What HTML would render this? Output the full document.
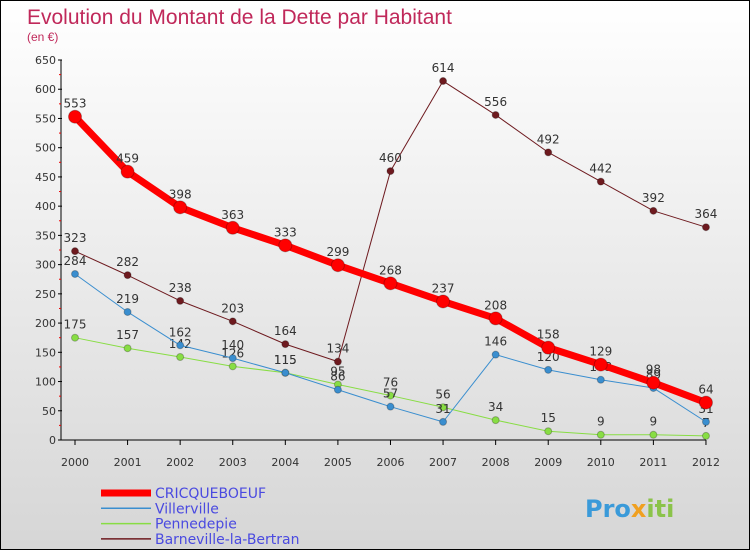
<!DOCTYPE html>
<html><head><meta charset="utf-8"><style>
body{margin:0}
#c{width:748px;height:548px;border:1px solid #000;background:linear-gradient(#fff,#d6d6d6);position:relative;font-family:"DejaVu Sans","Liberation Sans",sans-serif;overflow:hidden}
</style></head><body>
<div id="c">
<svg id="s" width="748" height="548"></svg>
</div>
<script>
const years=[2000,2001,2002,2003,2004,2005,2006,2007,2008,2009,2010,2011,2012];
const cricq=[553,459,398,363,333,299,268,237,208,158,129,98,64];
const viller=[284,219,162,140,115,86,57,31,146,120,103,89,31];
const penne=[175,157,142,126,115,95,76,56,34,15,9,9,7];
const barne=[323,282,238,203,164,134,460,614,556,492,442,392,364];
const yTicks=[0,50,100,150,200,250,300,350,400,450,500,550,600,650];
const NS="http://www.w3.org/2000/svg";
const s=document.getElementById('s');
const X=i=>74+i*52.58, Y=v=>439-v*380/650;
function el(t,a,txt){const e=document.createElementNS(NS,t);for(const k in a)e.setAttribute(k,a[k]);if(txt!==undefined)e.textContent=txt;s.appendChild(e);return e;}
let e;
e=el('text',{x:26,y:23,fill:'#c0285a','font-size':21,'font-family':'Liberation Sans, sans-serif'},'Evolution du Montant de la Dette par Habitant');

e=el('text',{x:26,y:40,fill:'#c0285a','font-size':12,'font-family':'Liberation Sans, sans-serif'},'(en €)');

e=el('line',{x1:60,y1:59,x2:60,y2:439,stroke:'#000'});

e=el('line',{x1:60,y1:439,x2:X(12),y2:439,stroke:'#000'});

yTicks.forEach(v=>{
 e=el('line',{x1:57,y1:Y(v),x2:61,y2:Y(v),stroke:'#000'});
 
 if(v<650){e=el('line',{x1:58,y1:Y(v+25),x2:60,y2:Y(v+25),stroke:'#e00'});
 }
 e=el('text',{x:55,y:Y(v)+4,'text-anchor':'end','font-size':11,fill:'#333'},v);
 
});
years.forEach((y,i)=>{
 e=el('line',{x1:X(i),y1:439,x2:X(i),y2:444,stroke:'#000'});
 
 e=el('text',{x:X(i),y:465,'text-anchor':'middle','font-size':11,fill:'#333'},y);
 
});
function series(d,col,w,r,name){
 e=el('polyline',{points:d.map((v,i)=>X(i)+','+Y(v)).join(' '),fill:'none',stroke:col,'stroke-width':w,'stroke-linejoin':'round'});
 
 d.forEach((v,i)=>{
  e=el('circle',{cx:X(i),cy:Y(v),r:r,fill:col,stroke:'rgba(0,0,0,0.25)'});
  
  e=el('text',{x:X(i),y:Y(v)-9,'text-anchor':'middle','font-size':12,fill:'#333'},v);
  
 });
}
series(barne,'#6e1a1f',1,3.5,'barneville');
series(penne,'#88dd44',1,3.5,'pennedepie');
series(viller,'#3a8ecf',1,3.5,'villerville');
series(cricq,'#ff0000',7,6.5,'cricqueboeuf');
const leg=[['CRICQUEBOEUF','#ff0000',7],['Villerville','#3a8ecf',1.5],['Pennedepie','#88dd44',1.5],['Barneville-la-Bertran','#6e1a1f',1.5]];
leg.forEach((l,i)=>{
 const y=492+i*15.3;
 e=el('line',{x1:100,y1:y,x2:150,y2:y,stroke:l[1],'stroke-width':l[2]});
 
 e=el('text',{x:154,y:y+5,'font-size':14,fill:'#4a4ae0'},l[0]);
 
});
e=el('text',{x:584,y:516,'font-size':24,'font-weight':'bold'});

e.innerHTML='<tspan fill="#3a9ad9">Pro</tspan><tspan fill="#f0a020">x</tspan><tspan fill="#8bc34a">iti</tspan>';
</script>
</body></html>
